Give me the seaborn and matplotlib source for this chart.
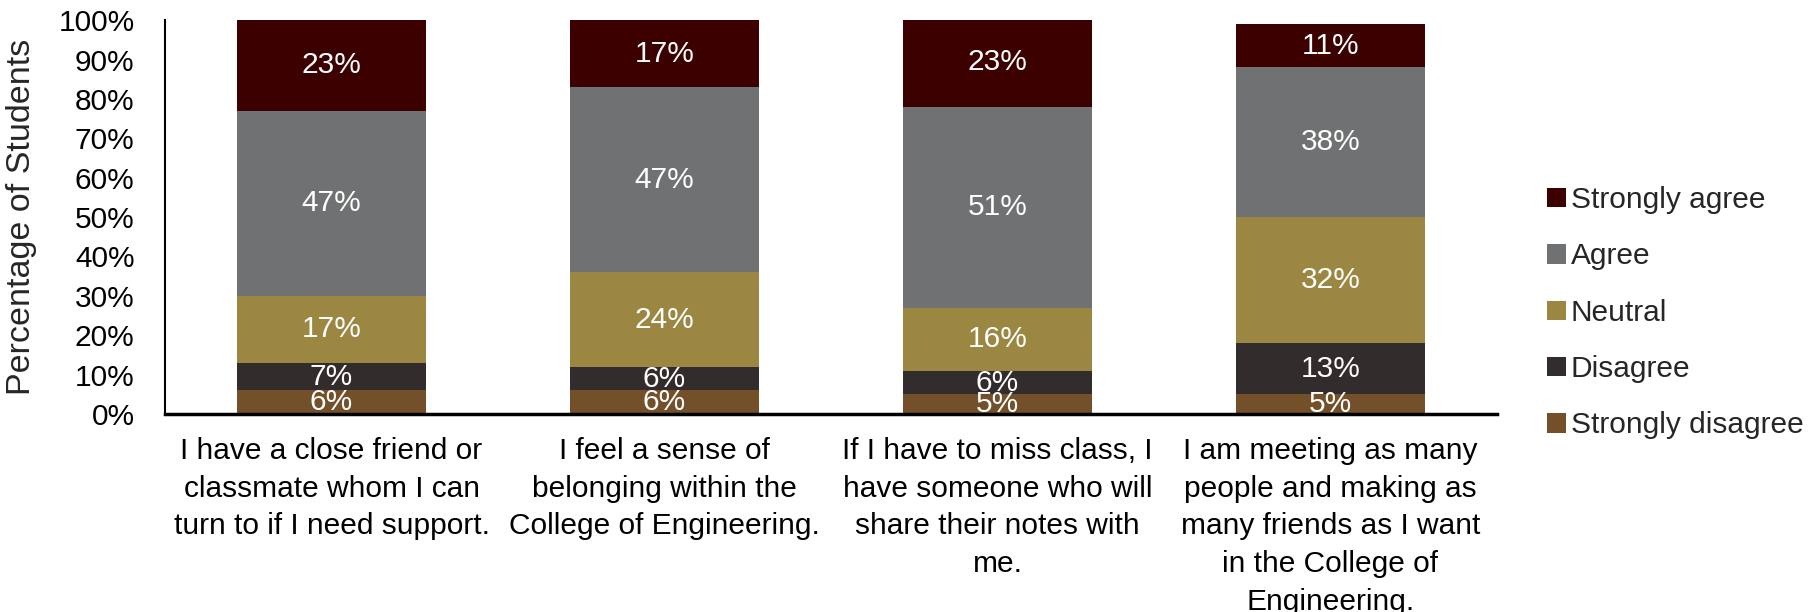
import matplotlib
matplotlib.use("Agg")
import matplotlib.pyplot as plt
from matplotlib.patches import Patch
from matplotlib.ticker import PercentFormatter
import numpy as np
import pandas as pd
import seaborn as sns

# Survey statements (x-axis categories)
statements = [
    "I have a close friend or\nclassmate whom I can\nturn to if I need support.",
    "I feel a sense of\nbelonging within the\nCollege of Engineering.",
    "If I have to miss class, I\nhave someone who will\nshare their notes with\nme.",
    "I am meeting as many\npeople and making as\nmany friends as I want\nin the College of\nEngineering.",
]

# Response shares in percent, one list per response level (bottom to top)
strongly_disagree = [6, 6, 5, 5]
disagree = [7, 6, 6, 13]
neutral = [17, 24, 16, 32]
agree = [47, 47, 51, 38]
strongly_agree = [23, 17, 23, 11]

levels = ["Strongly disagree", "Disagree", "Neutral", "Agree", "Strongly agree"]
values = [strongly_disagree, disagree, neutral, agree, strongly_agree]
colors = ["#74502A", "#332C2C", "#9B8642", "#6F7172", "#3D0000"]

sns.set_theme(style="white")
plt.rcParams["font.family"] = ["Liberation Sans", "DejaVu Sans"]
FS = 21.5

df = pd.DataFrame({"statement": statements})
for lvl, vals in zip(levels, values):
    df[lvl] = np.array(vals, dtype=float)

# cumulative tops of each segment
cum = df[levels].cumsum(axis=1)

fig = plt.figure(figsize=(18.14, 6.12), dpi=100)
ax = fig.add_axes([0.0910, 0.3235, 0.7342, 0.6435])

# draw stacked bars as overlapping cumulative bars, tallest first
for lvl, col in reversed(list(zip(levels, colors))):
    sns.barplot(x=df["statement"], y=cum[lvl], color=col, width=0.567,
                saturation=1, ax=ax, edgecolor="none", linewidth=0)

# segment labels
for i in range(len(statements)):
    base = 0.0
    for lvl in levels:
        v = df.loc[i, lvl]
        ax.text(i, base + v / 2, f"{v:.0f}%", ha="center", va="center",
                color="white", fontsize=FS)
        base += v

ax.set_ylim(0, 100)
ax.set_xlim(-0.5, 3.5)
ax.set_yticks(np.arange(0, 101, 10))
ax.yaxis.set_major_formatter(PercentFormatter(decimals=0))
ax.set_xlabel("")
ax.set_ylabel("Percentage of Students", fontsize=24.5)
ax.yaxis.set_label_coords(-0.096, 0.5)
ax.tick_params(axis="y", length=0, pad=22, labelsize=FS, colors="black")
ax.tick_params(axis="x", length=0, pad=16.5, labelsize=FS, colors="black")
for lab in ax.get_xticklabels():
    lab.set_linespacing(1.44)

sns.despine(ax=ax)
ax.spines["left"].set_color("black")
ax.spines["left"].set_linewidth(1.5)
ax.spines["bottom"].set_color("black")
ax.spines["bottom"].set_linewidth(2.5)

handles = [Patch(facecolor=c, edgecolor="none", label=l)
           for l, c in zip(levels, colors)][::-1]
fig.legend(handles=handles, loc="center left", bbox_to_anchor=(0.838, 0.489),
           frameon=False, fontsize=FS, handlelength=0.62, handleheight=0.62,
           handletextpad=0.18, labelspacing=0.95)

fig.savefig("out.png", dpi=100)
